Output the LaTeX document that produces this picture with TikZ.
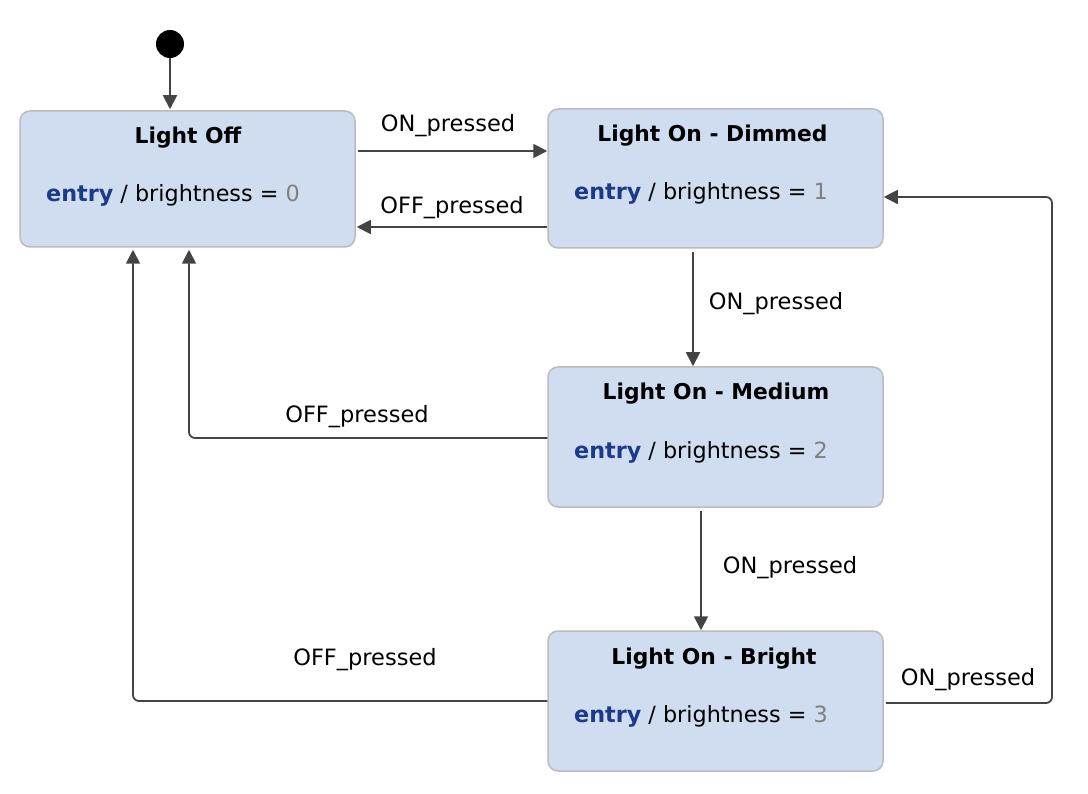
\documentclass[tikz,border=0pt]{standalone}
\usepackage{fontspec}
\setmainfont{DejaVu Sans}
\usetikzlibrary{arrows.meta,calc}
\definecolor{boxfill}{HTML}{D0DDF0}
\definecolor{boxline}{HTML}{BBBBBB}
\definecolor{arrcol}{HTML}{444444}
\definecolor{entrycol}{HTML}{1B3A8A}
\definecolor{numcol}{HTML}{7F7F7F}
\newcommand{\entryline}[1]{\textbf{\textcolor{entrycol}{entry}} / brightness = \textcolor{numcol}{#1}}
\begin{document}
\begin{tikzpicture}[x=1pt,y=-1pt,
  statebox/.style={draw=boxline,fill=boxfill,line width=1.5pt,rounded corners=10pt,minimum width=335pt,inner sep=0pt},
  titletext/.style={font=\fontsize{21.8}{26}\selectfont\bfseries,inner sep=0pt,anchor=center},
  entrytext/.style={font=\fontsize{22.3}{26}\selectfont,inner sep=0pt,anchor=west},
  lbl/.style={font=\fontsize{22.5}{26}\selectfont,inner sep=0pt,anchor=center},
  arr/.style={draw=arrcol,line width=1.8pt,-{Triangle[width=14pt,length=14pt]},rounded corners=6pt}
]
\useasboundingbox (0,0) rectangle (1088,794);
\fill[white] (0,0) rectangle (1088,794);

% initial
\node[circle,fill=black,minimum size=28pt,inner sep=0pt] (init) at (170,44) {};

% states
\node[statebox,minimum height=136pt] (off) at (187.5,179) {};
\node[statebox,minimum height=139pt] (dim) at (715.5,178.5) {};
\node[statebox,minimum height=140pt] (med) at (715.5,437) {};
\node[statebox,minimum height=140pt] (bri) at (715.5,701) {};

\node[titletext] (offT) at (188,137.5) {Light Off};
\node[entrytext] (offE) at (46,195.5) {\entryline{0}};
\node[titletext] (dimT) at (712.5,135.5) {Light On - Dimmed};
\node[entrytext] (dimE) at (574,193.5) {\entryline{1}};
\node[titletext] (medT) at (716,393.5) {Light On - Medium};
\node[entrytext] (medE) at (574,452.5) {\entryline{2}};
\node[titletext] (briT) at (714,658.5) {Light On - Bright};
\node[entrytext] (briE) at (574,716.5) {\entryline{3}};

% transitions
\draw[arr] (init.south) -- ([yshift=1pt]off.north -| init);
\draw[arr] ([xshift=2pt,yshift=28pt]off.east) -- ([yshift=28pt]off.east -| dim.west);
\draw[arr] ([yshift=-48pt]off.east -| dim.west) -- ([xshift=1pt,yshift=-48pt]off.east);
\draw[arr] ([xshift=-22.5pt,yshift=-3pt]dim.south) -- ([xshift=-22.5pt]med.north);
\draw[arr] ([yshift=-1pt]med.west) -| ([xshift=1.5pt,yshift=-2pt]off.south);
\draw[arr] ([xshift=-14.5pt,yshift=-3pt]med.south) -- ([xshift=-14.5pt]bri.north);
\draw[arr] (bri.west) -| ([xshift=-54.5pt,yshift=-2pt]off.south);
\coordinate (rc) at (1052,703);
\draw[arr] ([xshift=2pt,yshift=-2pt]bri.east) -- (rc) |- ([yshift=-18.5pt]dim.east);

% labels
\node[lbl] (l1) at (448,125.5) {ON\_pressed};
\node[lbl] (l2) at (452,207.5) {OFF\_pressed};
\node[lbl] (l3) at (776,303.5) {ON\_pressed};
\node[lbl] (l4) at (357,416.5) {OFF\_pressed};
\node[lbl] (l5) at (790,567.5) {ON\_pressed};
\node[lbl] (l6) at (365,659.5) {OFF\_pressed};
\node[lbl] (l7) at (968,679.5) {ON\_pressed};
\end{tikzpicture}
\end{document}
